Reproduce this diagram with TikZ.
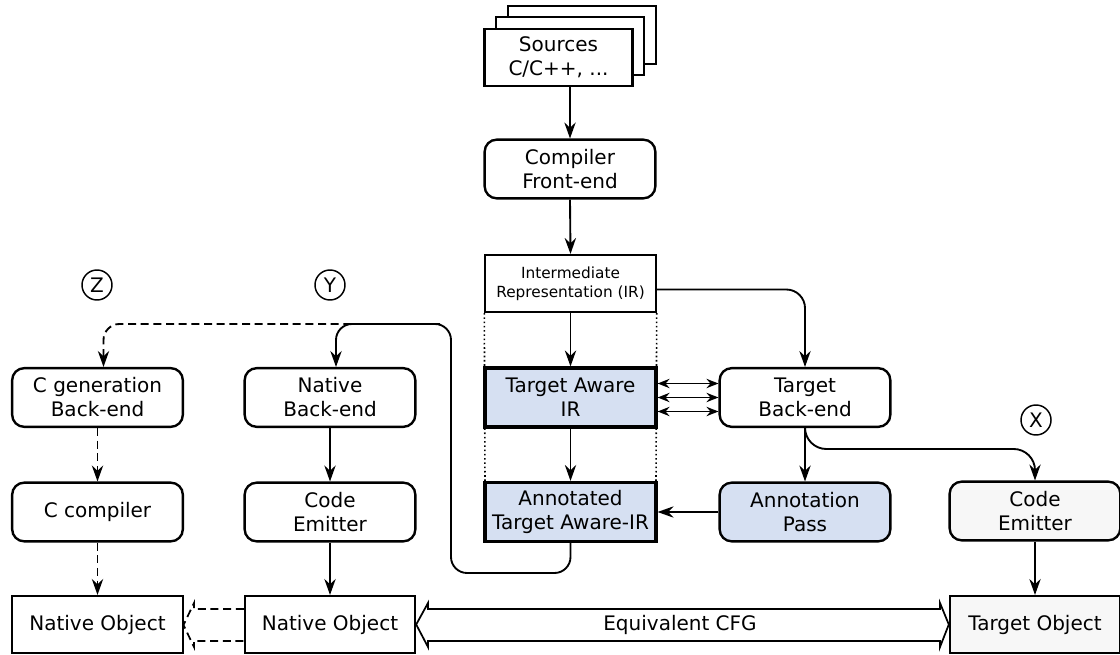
\documentclass[tikz,border=0pt]{standalone}
\usepackage{fontspec}
\setmainfont{DejaVu Sans}
\usetikzlibrary{arrows.meta,calc}
\definecolor{irblue}{HTML}{D6E0F2}
\definecolor{lgray}{HTML}{F7F7F7}
\begin{document}
\begin{tikzpicture}[x=0.75pt,y=-0.75pt,
  txt/.style={font=\fontsize{15pt}{18pt}\selectfont, align=center, inner sep=0pt},
  rbox/.style={txt, draw, line width=1.8pt, rounded corners=9pt, minimum width=128pt, minimum height=44pt, fill=white},
  sbox/.style={txt, draw, line width=1.3pt, minimum width=128pt, minimum height=43pt, fill=white},
  bbox/.style={txt, draw, line width=2.6pt, minimum width=128pt, minimum height=44pt, fill=irblue},
  circ/.style={txt, draw, circle, line width=1.1pt, minimum size=22.5pt},
  arr/.style={line width=1.4pt, -{Stealth[length=12pt,width=8.5pt,inset=4pt]}},
  darr/.style={line width=1.3pt, {Stealth[length=9pt,width=7pt,inset=3pt]}-{Stealth[length=9pt,width=7pt,inset=3pt]}},
  dsh/.style={dash pattern=on 6pt off 3.5pt},
]
\useasboundingbox (0,0) rectangle (1120,655);

% sources stack
\node[sbox, line width=1.6pt, minimum width=111pt, minimum height=43pt] (src3) at (582,35) {};
\node[sbox, line width=1.6pt, minimum width=111pt, minimum height=43pt] (src2) at (570,46) {};
\node[sbox, line width=1.6pt, minimum width=111pt, minimum height=43pt] (src1) at (558.5,57.5) {Sources\\C/C++, ...};

\node[rbox] (cfe) at (570,169) {Compiler\\Front-end};
\node[sbox, font=\fontsize{11.5pt}{14pt}\selectfont] (ir) at (570.5,283.5) {Intermediate\\Representation (IR)};

% dotted guides
\draw[dotted, line width=1.2pt] (ir.south west) -- (485,484);
\draw[dotted, line width=1.2pt] (ir.south east) -- (656,484);

\node[bbox] (tair) at (570.5,397.5) {Target Aware\\IR};
\node[bbox] (atair) at (570.5,512) {Annotated\\Target Aware-IR};

\node[rbox] (tbe) at (805,397.5) {Target\\Back-end};
\node[rbox, fill=irblue] (ap) at (805,512) {Annotation\\Pass};

\node[rbox, fill=lgray] (ce3) at (1035,511) {Code\\Emitter};
\node[sbox, fill=lgray] (to) at (1035,624.5) {Target Object};

\node[rbox] (cg) at (97.5,397.5) {C generation\\Back-end};
\node[rbox] (cc) at (97.5,512) {C compiler};
\node[sbox] (no1) at (97.5,624.5) {Native Object};

\node[rbox] (nb) at (330,397.5) {Native\\Back-end};
\node[rbox] (ce2) at (330,512) {Code\\Emitter};
\node[sbox] (no2) at (330,624.5) {Native Object};

\node[circ] (z) at (97,285) {Z};
\node[circ] (y) at (330,285) {Y};
\node[circ] (x) at (1036,420) {X};

% connectors
\draw[arr] (src1.south -| cfe.north) -- (cfe.north);
\draw[arr] (cfe.south) -- (ir.north);
\draw[arr] (ir.south) -- (tair.north);
\draw[arr] (tair.south) -- (atair.north);
\draw[arr, rounded corners=14pt] ($(ir.east)+(0,6)$) -| (tbe.north);

\draw[darr] ($(tair.east)+(0,-14)$) -- ($(tbe.west)+(0,-14)$);
\draw[darr] (tair.east) -- (tbe.west);
\draw[darr] ($(tair.east)+(0,14)$) -- ($(tbe.west)+(0,14)$);

\draw[arr] (tbe.south) -- (ap.north);
\coordinate (xb) at (1035,449);
\draw[arr, rounded corners=16pt] (tbe.south) |- (xb) -- (ce3.north);
\draw[arr] (ap.west) -- (atair.east);
\draw[arr] (ce3.south) -- (to.north);

\coordinate (lb) at (451,573);
\coordinate (lt) at (451,324);
\coordinate (ld) at (440,324);
\draw[arr, dsh, rounded corners=12pt] (ld) -| ($(cg.north)+(6,0)$);
\draw[arr, rounded corners=12pt] (atair.south) |- (lb) -- (lt) -| ($(nb.north)+(6,0)$);

\draw[arr, dsh] (cg.south) -- (cc.north);
\draw[arr, dsh] (cc.south) -- (no1.north);
\draw[arr] (nb.south) -- (ce2.north);
\draw[arr] (ce2.south) -- (no2.north);

% hollow dashed arrow Native Object -> Native Object
\draw[dsh, line width=1.3pt] (no2.west |- 0,609) -- (194,609) -- (194,603) -- (183.5,625) -- (194,647) -- (194,641) -- (no2.west |- 0,641);

% Equivalent CFG
\draw[line width=1.3pt] (428,609) -- (940,609) -- (940,603) -- (to.west) -- (940,647) -- (940,641) -- (428,641) -- (428,647) -- (no2.east) -- (428,603) -- cycle;
\node[txt] (eq) at (680,625) {Equivalent CFG};
\end{tikzpicture}
\end{document}
